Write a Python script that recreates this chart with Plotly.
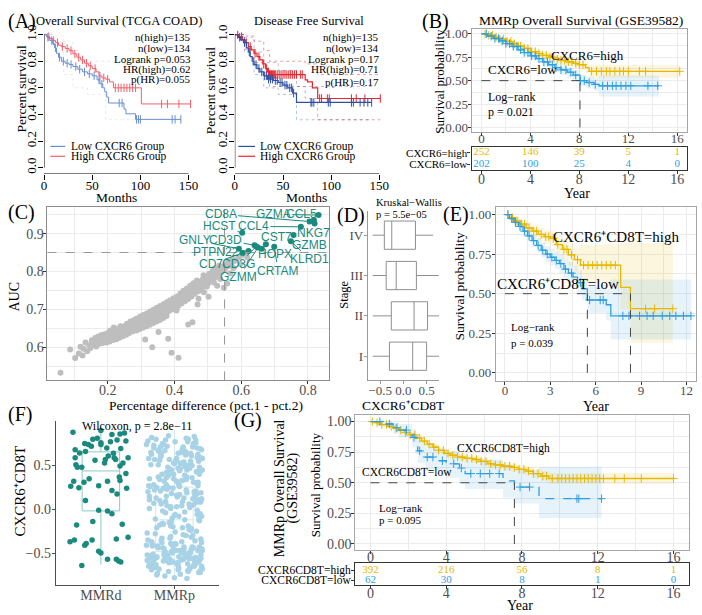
import plotly.graph_objects as go

W, H = 702, 615
SERIF = "Liberation Serif"
SANS = "Liberation Sans"
GOLD = "#E7B800"
BLUE = "#2E9FDF"
GOLD_F = "rgba(231,184,0,0.13)"
BLUE_F = "rgba(46,159,223,0.12)"
TEAL = "#1A8A7E"
TEAL_L = "#8CCAC2"
LIGHTBLUE = "#A8D3E6"
GRID = "#EBEBEB"
BORDER = "#A6A6A6"
TICKC = "#4D4D4D"

# ======================= DATA =======================
# (A) TCGA COAD overall survival (months)
a1_high_t = [0, 3, 6, 9, 12, 15, 18, 22, 26, 30, 34, 38, 42, 46, 50, 54, 57, 60, 64, 68, 72, 101]
a1_high_s = [1, 0.985, 0.97, 0.955, 0.94, 0.92, 0.91, 0.895, 0.88, 0.855, 0.83, 0.81, 0.785, 0.765, 0.745, 0.72, 0.69, 0.675, 0.665, 0.645, 0.60, 0.479]
a1_high_end = 152
a1_high_cens = [5, 10, 14, 19, 24, 28, 32, 36, 40, 44, 48, 53, 58, 62, 66, 74, 77, 80, 83, 86, 89, 92, 95, 122, 128, 140, 152]
a1_low_t = [0, 3, 6, 9, 11, 13, 15, 18, 22, 26, 30, 35, 40, 45, 50, 55, 58, 61, 63, 65, 67, 83, 85, 95]
a1_low_s = [1, 0.98, 0.955, 0.93, 0.9, 0.86, 0.83, 0.8, 0.785, 0.775, 0.76, 0.74, 0.72, 0.705, 0.69, 0.66, 0.63, 0.6, 0.57, 0.53, 0.486, 0.44, 0.405, 0.363]
a1_low_end = 142
a1_low_cens = [4, 8, 12, 16, 20, 24, 28, 33, 37, 42, 47, 52, 57, 60, 78, 81, 96, 98, 100, 133, 136, 142]
a1_stats = ["n(high)=135", "n(low)=134", "Logrank p=0.053", "HR(high)=0.62", "p(HR)=0.055"]

# (A) disease free survival
a2_high_t = [0, 4, 8, 11, 14, 17, 20, 23, 26, 29, 32, 34, 36, 73, 75.5, 80.5, 86]
a2_high_s = [1, 0.985, 0.96, 0.94, 0.91, 0.885, 0.86, 0.835, 0.81, 0.78, 0.745, 0.72, 0.70, 0.66, 0.645, 0.60, 0.52]
a2_high_end = 151
a2_high_cens = [3, 7, 12, 16, 21, 25, 30, 33, 35, 36, 37, 38, 39, 40, 41, 42, 44, 46, 48, 50, 52, 54, 56, 58, 60, 62, 64,
                68, 70, 88, 90, 96, 98, 121, 126, 135, 151]
a2_low_t = [0, 3, 6, 9, 12, 14, 16, 18, 20, 23, 26, 30, 34, 40, 45, 50, 55, 60, 64]
a2_low_s = [1, 0.98, 0.96, 0.94, 0.9, 0.87, 0.835, 0.8, 0.775, 0.745, 0.72, 0.69, 0.665, 0.655, 0.64, 0.62, 0.6, 0.56, 0.49]
a2_low_end = 142
a2_low_cens = [5, 10, 15, 19, 22, 25, 28, 31, 33, 35, 37, 39, 42, 44, 47, 49, 52, 54, 57, 59, 61, 79, 80, 82, 97, 99,
               121, 123, 130, 134, 138, 142]
a2_ci_high_t = [0, 10, 20, 30, 36, 73, 86]
a2_ci_high_hi = [1, 0.99, 0.95, 0.88, 0.80, 0.78, 0.70]
a2_ci_high_lo = [1, 0.89, 0.79, 0.70, 0.61, 0.52, 0.36]
a2_ci_low_t = [0, 10, 20, 30, 45, 64]
a2_ci_low_hi = [1, 0.98, 0.87, 0.79, 0.73, 0.61]
a2_ci_low_lo = [1, 0.87, 0.70, 0.60, 0.55, 0.36]
a2_stats = ["n(high)=135", "n(low)=134", "Logrank p=0.17", "HR(high)=0.71", "p(HR)=0.17"]

# (B) MMRp overall survival (GSE39582), years
b_high_t = [0, 0.5, 1.0, 1.5, 2.0, 2.5, 3.0, 3.5, 4.0, 4.5, 5.0, 5.5, 6.0, 6.5, 7.0, 7.5, 8.0, 8.5, 8.8]
b_high_s = [1.0, 0.985, 0.965, 0.945, 0.92, 0.895, 0.87, 0.845, 0.81, 0.79, 0.77, 0.75, 0.73, 0.715, 0.70, 0.685, 0.67, 0.64, 0.60]
b_high_lo = [1.0, 0.975, 0.95, 0.93, 0.90, 0.87, 0.845, 0.815, 0.78, 0.755, 0.735, 0.71, 0.69, 0.67, 0.655, 0.635, 0.615, 0.58, 0.53]
b_high_hi = [1.0, 0.995, 0.98, 0.965, 0.945, 0.92, 0.90, 0.875, 0.845, 0.825, 0.81, 0.79, 0.77, 0.76, 0.745, 0.735, 0.72, 0.70, 0.67]
b_high_end = 16.2
b_high_cens = [0.3, 0.6, 0.9, 1.2, 1.5, 1.8, 2.1, 2.4, 2.7, 3.0, 3.2, 3.5, 3.8, 4.1, 4.4, 4.7, 5.0, 5.3, 5.6, 5.9,
               6.2, 6.5, 6.8, 7.1, 7.4, 7.7, 8.0, 8.3, 9.0, 9.4, 9.8, 10.2, 10.5, 10.9, 11.3, 11.6, 12.0, 12.9, 13.4, 16.2]
b_low_t = [0, 0.5, 1, 1.5, 2, 2.5, 3, 3.5, 4, 4.5, 5, 5.5, 6, 6.5, 7, 7.5, 8.05, 8.6, 9.2, 9.6]
b_low_s = [1, 0.975, 0.95, 0.925, 0.895, 0.865, 0.83, 0.80, 0.765, 0.735, 0.70, 0.67, 0.64, 0.615, 0.59, 0.56, 0.50, 0.48, 0.46, 0.445]
b_low_lo = [1, 0.96, 0.93, 0.90, 0.865, 0.83, 0.79, 0.76, 0.72, 0.69, 0.65, 0.62, 0.59, 0.56, 0.535, 0.505, 0.44, 0.415, 0.39, 0.33]
b_low_hi = [1, 0.99, 0.97, 0.95, 0.925, 0.90, 0.87, 0.84, 0.81, 0.78, 0.75, 0.72, 0.69, 0.67, 0.645, 0.615, 0.56, 0.545, 0.53, 0.555]
b_low_end = 14.5
b_low_cens = [0.4, 0.8, 1.1, 1.4, 1.7, 2.0, 2.3, 2.6, 2.9, 3.2, 3.5, 3.8, 4.1, 4.4, 4.7, 5.1, 5.4, 5.8, 6.1, 6.5,
              6.9, 7.3, 7.7, 8.1, 8.4, 8.8, 9.3, 9.9, 10.3, 10.7, 11.0, 11.4, 11.8, 12.2, 13.6, 14.4]
b_risk_times = [0, 4, 8, 12, 16]
b_risk_high = [252, 146, 39, 5, 1]
b_risk_low = [202, 100, 25, 4, 0]

# (C) marker genes: percentage difference vs AUC
pct_diff = [0.058, 0.087, 0.102, 0.113, 0.118, 0.124, 0.127, 0.133, 0.138, 0.144,
            0.148, 0.152, 0.155, 0.157, 0.162, 0.165, 0.168, 0.171, 0.174, 0.176,
            0.178, 0.181, 0.184, 0.186, 0.188, 0.191, 0.194, 0.196, 0.198, 0.201,
            0.203, 0.205, 0.207, 0.209, 0.212, 0.214, 0.216, 0.218, 0.219, 0.222,
            0.224, 0.226, 0.228, 0.229, 0.231, 0.233, 0.235, 0.237, 0.238, 0.241,
            0.243, 0.245, 0.246, 0.248, 0.249, 0.251, 0.253, 0.255, 0.256, 0.258,
            0.259, 0.262, 0.263, 0.265, 0.267, 0.268, 0.271, 0.272, 0.274, 0.276,
            0.277, 0.279, 0.281, 0.283, 0.284, 0.286, 0.287, 0.289, 0.291, 0.292,
            0.294, 0.295, 0.297, 0.299, 0.301, 0.302, 0.304, 0.305, 0.307, 0.309,
            0.311, 0.312, 0.314, 0.316, 0.317, 0.312, 0.321, 0.323, 0.324, 0.326,
            0.327, 0.329, 0.331, 0.332, 0.334, 0.336, 0.337, 0.333, 0.341, 0.342,
            0.344, 0.346, 0.347, 0.349, 0.351, 0.352, 0.354, 0.356, 0.357, 0.352,
            0.361, 0.362, 0.364, 0.366, 0.368, 0.371, 0.372, 0.374, 0.376, 0.378,
            0.381, 0.383, 0.384, 0.381, 0.387, 0.391, 0.392, 0.394, 0.391, 0.397,
            0.401, 0.403, 0.404, 0.406, 0.408, 0.411, 0.413, 0.414, 0.412, 0.418,
            0.421, 0.423, 0.424, 0.427, 0.431, 0.433, 0.435, 0.437, 0.441, 0.443,
            0.444, 0.447, 0.441, 0.451, 0.452, 0.454, 0.457, 0.454, 0.461, 0.463,
            0.464, 0.467, 0.471, 0.472, 0.474, 0.469, 0.481, 0.483, 0.484, 0.487,
            0.491, 0.493, 0.494, 0.488, 0.501, 0.503, 0.504, 0.497, 0.511, 0.513,
            0.514, 0.521, 0.523, 0.524, 0.518, 0.531, 0.533, 0.534, 0.541, 0.543,
            0.537, 0.551, 0.553, 0.561, 0.563, 0.558, 0.571, 0.574, 0.581, 0.577,
            0.591, 0.601, 0.597, 0.611, 0.618, 0.502, 0.472, 0.528, 0.548, 0.567]
auc = [0.532, 0.594, 0.571, 0.583, 0.601, 0.578, 0.596, 0.612, 0.589, 0.605,
       0.598, 0.618, 0.607, 0.611, 0.624, 0.602, 0.615, 0.628, 0.609, 0.621,
       0.617, 0.632, 0.611, 0.625, 0.619, 0.634, 0.627, 0.612, 0.622, 0.638,
       0.629, 0.615, 0.644, 0.626, 0.633, 0.641, 0.619, 0.652, 0.628, 0.636,
       0.645, 0.621, 0.639, 0.631, 0.642, 0.649, 0.625, 0.637, 0.655, 0.635,
       0.646, 0.629, 0.652, 0.641, 0.638, 0.649, 0.657, 0.633, 0.644, 0.662,
       0.642, 0.651, 0.637, 0.659, 0.647, 0.668, 0.646, 0.655, 0.641, 0.663,
       0.651, 0.672, 0.649, 0.658, 0.667, 0.644, 0.676, 0.655, 0.653, 0.664,
       0.671, 0.648, 0.681, 0.659, 0.657, 0.668, 0.675, 0.651, 0.685, 0.662,
       0.661, 0.672, 0.679, 0.655, 0.689, 0.620, 0.665, 0.676, 0.684, 0.659,
       0.694, 0.671, 0.669, 0.681, 0.689, 0.664, 0.699, 0.600, 0.674, 0.686,
       0.694, 0.668, 0.704, 0.679, 0.679, 0.691, 0.699, 0.672, 0.709, 0.640,
       0.684, 0.696, 0.704, 0.677, 0.714, 0.689, 0.701, 0.709, 0.682, 0.719,
       0.694, 0.706, 0.714, 0.622, 0.724, 0.699, 0.711, 0.719, 0.585, 0.729,
       0.704, 0.716, 0.724, 0.697, 0.734, 0.709, 0.722, 0.731, 0.572, 0.742,
       0.715, 0.728, 0.737, 0.749, 0.721, 0.734, 0.744, 0.755, 0.727, 0.741,
       0.751, 0.762, 0.660, 0.734, 0.748, 0.758, 0.769, 0.666, 0.741, 0.755,
       0.765, 0.776, 0.748, 0.762, 0.772, 0.713, 0.755, 0.769, 0.779, 0.790,
       0.762, 0.776, 0.786, 0.745, 0.769, 0.783, 0.794, 0.760, 0.776, 0.790,
       0.801, 0.784, 0.797, 0.808, 0.771, 0.791, 0.805, 0.815, 0.799, 0.812,
       0.780, 0.806, 0.819, 0.814, 0.826, 0.768, 0.821, 0.833, 0.828, 0.809,
       0.836, 0.842, 0.820, 0.848, 0.838, 0.733, 0.728, 0.762, 0.757, 0.795]
gene_names = ["CD8A", "GZMA", "CCL5", "CCL4", "NKG7", "HCST", "CST7", "GNLY", "CD3D", "GZMB",
              "PTPN22", "HOPX", "KLRD1", "CD7", "CD3G", "CRTAM", "GZMM"]
gene_pct = [0.805, 0.832, 0.820, 0.779, 0.818, 0.603, 0.674, 0.593, 0.640, 0.757,
            0.622, 0.662, 0.749, 0.604, 0.645, 0.699, 0.650]
gene_auc = [0.932, 0.949, 0.927, 0.918, 0.936, 0.902, 0.872, 0.860, 0.869, 0.896,
            0.854, 0.860, 0.880, 0.849, 0.866, 0.865, 0.863]
gene_label_pct = [0.538, 0.696, 0.781, 0.637, 0.818, 0.535, 0.706, 0.461, 0.553, 0.805,
                  0.523, 0.701, 0.805, 0.509, 0.593, 0.711, 0.593]
gene_label_auc = [0.951, 0.951, 0.951, 0.919, 0.901, 0.919, 0.892, 0.883, 0.884, 0.869,
                  0.851, 0.845, 0.832, 0.819, 0.819, 0.802, 0.785]
pct_cutoff = 0.55
auc_cutoff = 0.85

# (D) CXCR6+CD8T by stage (boxplot statistics)
stages = ["I", "II", "III", "IV"]
stage_q1 = [-0.30, -0.26, -0.37, -0.41]
stage_med = [0.20, 0.23, -0.155, -0.25]
stage_q3 = [0.50, 0.52, 0.28, 0.26]
stage_lo = [-0.66, -0.66, -0.66, -0.66]
stage_hi = [0.78, 0.78, 0.76, 0.64]

# (E) CXCR6+CD8T survival, years
e_high_t = [0, 0.3, 0.6, 1.0, 1.4, 1.8, 2.2, 2.6, 3.0, 3.4, 3.8, 4.2, 4.6, 5.0, 7.65, 8.3]
e_high_s = [1, 0.98, 0.96, 0.94, 0.915, 0.895, 0.875, 0.86, 0.85, 0.81, 0.78, 0.745, 0.715, 0.68, 0.54, 0.405]
e_high_lo = [1, 0.965, 0.94, 0.91, 0.885, 0.86, 0.835, 0.815, 0.80, 0.755, 0.72, 0.675, 0.64, 0.57, 0.40, 0.19]
e_high_hi = [1, 0.995, 0.985, 0.97, 0.95, 0.93, 0.915, 0.905, 0.895, 0.865, 0.84, 0.81, 0.79, 0.81, 0.82, 0.82]
e_high_end = 11.1
e_high_cens = [0.2, 0.5, 0.8, 1.1, 1.3, 1.6, 1.9, 2.1, 2.4, 2.7, 2.9, 3.2, 3.5, 3.9, 4.1, 4.4, 4.8, 5.2, 5.5, 5.8,
               6.1, 6.4, 6.7, 7.0, 7.3, 9.3, 9.9, 11.1]
e_low_t = [0, 0.3, 0.6, 0.9, 1.2, 1.5, 1.8, 2.1, 2.4, 2.7, 3.0, 3.3, 3.6, 3.9, 4.2, 4.5, 4.8, 5.1, 5.45, 6.7, 7.0]
e_low_s = [1, 0.975, 0.95, 0.925, 0.895, 0.865, 0.835, 0.805, 0.775, 0.75, 0.73, 0.71, 0.69, 0.655, 0.63, 0.605, 0.57, 0.53, 0.46, 0.43, 0.36]
e_low_lo = [1, 0.955, 0.925, 0.895, 0.86, 0.83, 0.795, 0.76, 0.73, 0.70, 0.68, 0.655, 0.63, 0.595, 0.57, 0.54, 0.50, 0.46, 0.38, 0.33, 0.21]
e_low_hi = [1, 0.995, 0.98, 0.96, 0.935, 0.905, 0.875, 0.85, 0.825, 0.80, 0.785, 0.765, 0.75, 0.72, 0.70, 0.675, 0.645, 0.60, 0.545, 0.53, 0.59]
e_low_end = 12.3
e_low_cens = [0.2, 0.45, 0.7, 1.0, 1.3, 1.6, 1.9, 2.2, 2.5, 2.8, 3.1, 3.4, 3.7, 4.0, 4.4, 5.0, 5.6, 6.3, 6.5, 7.8,
              8.2, 8.9, 9.4, 9.8, 10.4, 10.9, 11.3, 11.8, 12.3]

# (F) CXCR6+CD8T score by MMR status (jittered positions)
mmrd_x = [0.62, 1.00, 1.26, 1.15, 1.32, 0.89, 0.78, 1.00, 1.22, 1.34,
          0.83, 0.95, 0.65, 0.65, 0.71, 0.79, 1.08, 1.27, 1.37, 1.06,
          1.20, 1.26, 0.68, 0.74, 1.05, 1.30, 0.63, 0.77, 0.70, 0.59,
          0.97, 1.15, 1.25, 1.09, 1.35, 1.34, 0.79, 1.22, 0.97, 1.09,
          1.15, 0.89, 0.67, 1.29, 1.37, 0.58, 0.64, 0.88, 0.78, 0.80,
          1.21, 0.97, 1.00, 1.09, 1.21, 1.24, 1.27, 0.74, 0.92, 1.00,
          1.13, 0.87, 0.66, 1.10, 1.18, 1.17, 0.84, 1.26]
mmrd_y = [0.88, 0.90, 0.86, 0.855, 0.87, 0.80, 0.75, 0.76, 0.79, 0.78,
          0.74, 0.81, 0.68, 0.59, 0.644, 0.66, 0.70, 0.694, 0.59, 0.57,
          0.568, 0.495, 0.48, 0.48, 0.53, 0.53, 0.32, 0.31, 0.245, 0.264,
          0.27, 0.214, 0.37, 0.32, 0.24, 0.41, 0.10, 0.176, -0.01, -0.018,
          -0.05, -0.14, -0.18, -0.17, -0.32, -0.37, -0.35, -0.35, -0.41, -0.39,
          -0.34, -0.48, -0.50, -0.57, -0.57, -0.59, -0.60, -0.64, 0.56, 0.74,
          0.77, 0.72, 0.51, 0.61, 0.59, 0.64, 0.35, 0.33]
mmrp_x = [1.69, 2.14, 1.93, 2.33, 1.78, 2.04, 2.26, 1.85, 2.37, 1.72, 2.19, 1.99, 2.23, 1.66, 2.09, 1.82, 2.35, 1.89, 2.02, 2.29,
          1.75, 2.16, 1.95, 2.31, 1.63, 2.07, 2.21, 1.87, 2.38, 1.80, 2.11, 1.97, 2.27, 1.68, 2.13, 1.91, 2.34, 1.76, 2.05, 2.18,
          1.64, 2.22, 1.94, 2.30, 1.83, 2.01, 2.25, 1.71, 2.36, 1.88, 2.15, 1.96, 2.32, 1.77, 2.08, 1.84, 2.37, 1.70, 2.03, 2.20,
          1.73, 2.12, 1.92, 2.28, 1.65, 2.06, 2.24, 1.86, 2.33, 1.79, 2.17, 1.98, 2.26, 1.67, 2.10, 1.81, 2.36, 1.90, 2.00, 2.30,
          1.74, 2.15, 1.94, 2.32, 1.62, 2.08, 2.22, 1.88, 2.37, 1.81, 2.12, 1.96, 2.28, 1.69, 2.14, 1.92, 2.35, 1.75, 2.06, 2.19,
          1.63, 2.21, 1.93, 2.29, 1.84, 2.02, 2.26, 1.72, 2.35, 1.87, 2.16, 1.97, 2.31, 1.76, 2.07, 1.83, 2.38, 1.71, 2.04, 2.21,
          1.72, 2.11, 1.91, 2.27, 1.66, 2.05, 2.23, 1.85, 2.34, 1.78, 2.18, 1.99, 2.25, 1.64, 2.09, 1.80, 2.33, 1.89, 2.01, 2.31,
          1.76, 2.13, 1.95, 2.30, 1.67, 2.10, 2.20, 1.86, 2.36, 1.82, 2.14, 1.98, 2.27, 1.70, 2.12, 1.93, 2.34, 1.74, 2.03, 2.17,
          1.65, 2.23, 1.92, 2.32, 1.82, 2.00, 2.24, 1.73, 2.37, 1.89, 2.17, 1.95, 2.29, 1.78, 2.06, 1.85, 2.36, 1.69, 2.02, 2.22,
          1.86, 2.27, 1.71, 2.05, 2.34, 1.79, 2.12, 1.95, 2.38, 1.66, 2.21, 1.90, 2.30, 1.75, 2.08, 1.83, 2.25, 1.68, 2.16, 1.99,
          2.32, 1.73, 2.03, 2.19, 1.88, 2.36, 1.64, 2.11, 1.94, 2.28, 1.81, 2.07, 2.23, 1.70, 2.35, 1.92, 2.14, 1.77, 2.01, 2.31,
          1.85, 2.18, 1.67, 2.26, 1.97, 2.09, 1.74, 2.33, 1.89, 2.13, 1.62, 2.24, 1.93, 2.06, 2.37, 1.80, 2.15, 1.98, 2.29, 1.72,
          2.02, 2.20, 1.87, 2.34, 1.69, 2.10, 1.96, 2.27, 1.76, 2.04, 2.36, 1.84, 2.17, 1.65, 2.22, 1.91, 2.31, 1.78, 2.08, 2.00,
          1.82, 2.25, 1.71, 2.13, 2.38, 1.94, 2.05, 1.67, 2.29, 1.88, 2.19, 1.74, 2.33, 1.97, 2.11, 1.63, 2.23, 1.86, 2.03, 2.35,
          1.79, 2.16, 1.92, 2.30, 1.70, 2.07, 2.26, 1.84, 2.37, 1.95, 2.12, 1.68, 2.21, 1.89, 2.01, 2.32, 1.76, 2.14, 1.99, 2.28,
          1.73, 2.09, 1.83, 2.36, 1.66, 2.18, 1.93, 2.24, 1.80, 2.04, 2.31, 1.87, 2.15, 1.64, 2.27, 1.96, 2.10, 1.75, 2.34, 1.90]
mmrp_y = [0.82, -0.55, 0.41, -0.12, 0.67, -0.63, 0.05, 0.74, -0.38, 0.28, -0.71, 0.53, -0.22, 0.15, -0.58, 0.61, -0.05, 0.36, -0.47, 0.79,
          -0.66, 0.22, -0.31, 0.70, -0.52, 0.44, 0.02, -0.76, 0.58, -0.18, 0.33, -0.60, 0.12, 0.65, -0.43, 0.48, -0.09, 0.25, -0.69, 0.77,
          -0.35, 0.55, -0.57, 0.08, 0.40, -0.26, 0.72, -0.64, 0.19, -0.49, 0.62, -0.14, 0.31, -0.73, 0.46, -0.02, 0.68, -0.40, 0.16, -0.56,
          0.57, -0.29, 0.84, -0.62, 0.27, -0.08, 0.50, -0.45, 0.11, -0.68, 0.37, -0.20, 0.75, -0.53, 0.04, 0.60, -0.34, 0.23, -0.78, 0.43,
          -0.11, 0.66, -0.59, 0.30, -0.41, 0.52, -0.24, 0.09, -0.65, 0.71, -0.50, 0.18, -0.36, 0.63, -0.03, 0.39, -0.70, 0.13, -0.54, 0.80,
          -0.27, 0.47, -0.61, 0.21, -0.16, 0.56, -0.44, 0.07, 0.69, -0.58, 0.34, -0.10, 0.59, -0.75, 0.26, -0.33, 0.45, -0.51, 0.14, -0.67,
          0.73, -0.21, 0.38, -0.57, 0.01, 0.64, -0.46, 0.24, -0.13, 0.51, -0.62, 0.35, -0.30, 0.78, -0.48, 0.10, -0.72, 0.42, -0.06, 0.29,
          -0.55, 0.54, -0.39, 0.17, -0.64, 0.66, -0.23, 0.32, -0.52, 0.06, 0.49, -0.60, 0.20, -0.42, 0.71, -0.15, 0.40, -0.56, 0.03, -0.79,
          0.58, -0.32, 0.25, -0.47, 0.63, -0.07, 0.36, -0.66, 0.12, -0.53, 0.45, -0.19, 0.76, -0.44, 0.28, -0.59, 0.09, -0.37, 0.55, -0.50,
          -0.52, 0.18, -0.61, 0.47, -0.43, 0.66, -0.57, 0.03, -0.68, 0.35, -0.49, 0.72, -0.25, -0.63, 0.53, -0.38, 0.12, -0.55, 0.81, -0.46,
          0.27, -0.66, 0.58, -0.51, -0.04, 0.44, -0.59, 0.69, -0.33, -0.62, 0.21, -0.47, 0.61, -0.54, 0.08, -0.71, 0.39, -0.42, 0.77, -0.58,
          -0.17, 0.50, -0.64, 0.31, -0.50, 0.65, -0.28, -0.60, 0.15, -0.45, 0.74, -0.56, 0.42, -0.67, -0.08, 0.56, -0.53, 0.24, -0.62, 0.70,
          -0.40, 0.06, -0.57, 0.48, -0.69, 0.33, -0.48, 0.83, -0.21, -0.61, 0.59, -0.44, 0.19, -0.65, 0.64, -0.52, -0.01, 0.37, -0.74, 0.52,
          -0.36, 0.71, -0.59, 0.13, -0.47, 0.46, -0.63, 0.26, -0.55, 0.79, -0.19, -0.66, 0.55, -0.41, 0.09, -0.58, 0.62, -0.50, 0.32, -0.72,
          0.68, -0.30, -0.60, 0.43, -0.53, 0.17, -0.64, 0.75, -0.45, 0.01, -0.57, 0.51, -0.68, 0.28, -0.39, 0.63, -0.54, -0.12, 0.40, -0.61,
          0.22, -0.49, 0.73, -0.56, 0.11, -0.70, 0.57, -0.43, 0.34, -0.62, -0.06, 0.67, -0.51, 0.20, -0.65, 0.45, -0.37, 0.80, -0.58, 0.04]
mmr_groups = ["MMRd", "MMRp"]
mmr_q1 = [-0.018, -0.48]
mmr_med = [0.438, -0.12]
mmr_q3 = [0.656, 0.255]
mmr_lo = [-0.63, -0.80]
mmr_hi = [0.92, 0.90]

# (G) MMRp overall survival by CXCR6CD8T, years
g_high_t = [0, 0.3, 0.6, 0.9, 1.2, 1.5, 1.8, 2.1, 2.4, 2.7, 3.0, 3.3, 3.6, 3.9, 4.2, 4.6, 5.0, 5.4, 5.8, 6.2, 6.6, 7.0,
            7.4, 7.8, 8.2, 8.6, 9.0, 9.4]
g_high_s = [1, 0.99, 0.975, 0.96, 0.945, 0.93, 0.91, 0.89, 0.865, 0.84, 0.815, 0.79, 0.765, 0.74, 0.725, 0.71, 0.70,
            0.69, 0.675, 0.655, 0.645, 0.635, 0.625, 0.61, 0.595, 0.575, 0.555, 0.535]
g_high_lo = [1, 0.985, 0.965, 0.948, 0.932, 0.915, 0.893, 0.872, 0.846, 0.82, 0.794, 0.768, 0.742, 0.716, 0.70, 0.684,
             0.673, 0.662, 0.646, 0.625, 0.614, 0.603, 0.592, 0.576, 0.56, 0.538, 0.516, 0.49]
g_high_hi = [1, 0.995, 0.985, 0.972, 0.958, 0.945, 0.927, 0.908, 0.884, 0.86, 0.836, 0.812, 0.788, 0.764, 0.75, 0.736,
             0.727, 0.718, 0.704, 0.685, 0.676, 0.667, 0.658, 0.644, 0.63, 0.612, 0.594, 0.58]
g_high_end = 16.0
g_high_cens = [0.1, 0.35, 0.6, 0.85, 1.1, 1.35, 1.6, 1.85, 2.1, 2.35, 2.6, 2.85, 3.1, 3.35, 3.6, 3.85, 4.1, 4.35, 4.6,
               4.85, 5.1, 5.35, 5.6, 5.85, 6.1, 6.35, 6.6, 6.85, 7.1, 7.35, 7.6, 7.85, 8.1, 8.35, 8.6, 8.85, 9.1, 9.3,
               9.6, 9.9, 10.1, 10.3, 10.5, 10.7, 10.9, 11.1, 11.3, 11.5, 11.7, 11.9, 12.1, 12.3, 12.9, 13.4, 14.3, 16.0]
g_low_t = [0, 0.6, 1.2, 1.5, 2.2, 2.4, 2.5, 2.9, 3.6, 4.0, 4.7, 5.0, 7.0, 7.6, 8.9]
g_low_s = [1, 0.98, 0.95, 0.93, 0.87, 0.82, 0.76, 0.71, 0.68, 0.655, 0.62, 0.575, 0.515, 0.465, 0.37]
g_low_lo = [1, 0.95, 0.90, 0.87, 0.79, 0.73, 0.66, 0.60, 0.57, 0.54, 0.50, 0.45, 0.38, 0.33, 0.21]
g_low_hi = [1, 1.0, 0.99, 0.98, 0.94, 0.90, 0.85, 0.81, 0.78, 0.76, 0.73, 0.69, 0.65, 0.60, 0.63]
g_low_end = 12.2
g_low_cens = [0.5, 1.0, 1.4, 1.9, 2.3, 2.6, 3.0, 3.3, 3.8, 4.4, 4.8, 5.3, 5.8, 6.3, 6.8, 7.9, 8.4, 10.9, 11.0, 12.2]
g_risk_times = [0, 4, 8, 12, 16]
g_risk_high = [392, 216, 56, 8, 1]
g_risk_low = [62, 30, 8, 1, 0]


# ======================= HELPERS =======================
def dx(l, r):
    return [l / W, r / W]


def dy(t, b):
    return [1 - b / H, 1 - t / H]


def px(x):
    return x / W


def py(y):
    return 1 - y / H


def step_xy(t, s, end):
    return list(t) + [end], list(s) + [s[-1]]


def surv_at(t, s, x):
    v = s[0]
    for ti, si in zip(t, s):
        if ti <= x:
            v = si
        else:
            break
    return v


def median_time(t, s):
    for ti, si in zip(t, s):
        if si <= 0.5:
            return ti
    return None


fig = go.Figure()
layout = {}
shapes = []
annots = []


def ax_names(n):
    return ("x" if n == 1 else f"x{n}"), ("y" if n == 1 else f"y{n}")


def set_axes(n, xd, yd):
    xa, ya = ax_names(n)
    xd["anchor"] = ya
    yd["anchor"] = xa
    xd.setdefault("zeroline", False)
    yd.setdefault("zeroline", False)
    xd.setdefault("fixedrange", True)
    yd.setdefault("fixedrange", True)
    layout["xaxis" if n == 1 else f"xaxis{n}"] = xd
    layout["yaxis" if n == 1 else f"yaxis{n}"] = yd


def band(n, t, lo, hi, end, fillc):
    xa, ya = ax_names(n)
    bx, blo = step_xy(t, lo, end)
    _, bhi = step_xy(t, hi, end)
    fig.add_trace(go.Scatter(x=bx, y=blo, mode="lines", line=dict(width=0, shape="hv"),
                             xaxis=xa, yaxis=ya, showlegend=False, hoverinfo="skip"))
    fig.add_trace(go.Scatter(x=bx, y=bhi, mode="lines", line=dict(width=0, shape="hv"),
                             fill="tonexty", fillcolor=fillc,
                             xaxis=xa, yaxis=ya, showlegend=False, hoverinfo="skip"))


def km(n, t, s, end, cens, color, dash="solid", width=1.3, symbol="cross-thin", msize=6, opacity=1.0):
    xa, ya = ax_names(n)
    x, y = step_xy(t, s, end)
    fig.add_trace(go.Scatter(x=x, y=y, mode="lines", opacity=opacity,
                             line=dict(color=color, width=width, shape="hv", dash=dash),
                             xaxis=xa, yaxis=ya, showlegend=False, hoverinfo="skip"))
    cy = [surv_at(t, s, c) for c in cens]
    fig.add_trace(go.Scatter(x=cens, y=cy, mode="markers", opacity=opacity,
                             marker=dict(symbol=symbol, size=msize, color=color,
                                         line=dict(color=color, width=1)),
                             xaxis=xa, yaxis=ya, showlegend=False, hoverinfo="skip"))


def ci_line(n, t, s, end, color, opacity):
    xa, ya = ax_names(n)
    x, y = step_xy(t, s, end)
    fig.add_trace(go.Scatter(x=x, y=y, mode="lines", opacity=opacity,
                             line=dict(color=color, width=1, shape="hv", dash="dot"),
                             xaxis=xa, yaxis=ya, showlegend=False, hoverinfo="skip"))


def text(x, y, s, size, color="black", family=SERIF, xanchor="center", yanchor="middle",
         angle=0, xref="paper", yref="paper"):
    annots.append(dict(x=x, y=y, xref=xref, yref=yref, text=s, showarrow=False,
                       xanchor=xanchor, yanchor=yanchor, textangle=angle,
                       font=dict(family=family, size=size, color=color)))


def ptext(xp, yp, s, size, **kw):
    text(px(xp), py(yp), s, size, **kw)


def bw_axis(dom, rng, dtick, minor_dtick, fmt, size=13, standoff=0):
    d = dict(domain=dom, range=rng, tickmode="linear", tick0=0, dtick=dtick,
             showgrid=True, gridcolor=GRID, gridwidth=1,
             minor=dict(tick0=0, dtick=minor_dtick, showgrid=True, gridcolor=GRID, gridwidth=0.6, ticks=""),
             showline=True, mirror=True, linecolor=BORDER, linewidth=1,
             ticks="outside", ticklen=3, tickcolor="#333333", tickwidth=1,
             ticklabelstandoff=standoff,
             tickformat=fmt, tickfont=dict(family=SERIF, size=size, color=TICKC))
    return d


def table_axes(n, xdom, ydom, labels, yrange, size_lab=11, xstand=-6):
    xd = dict(domain=xdom, range=[-0.8, 16.8], tickmode="array", tickvals=[0, 4, 8, 12, 16],
              showline=True, mirror=True, linecolor="#333333", linewidth=1.2, showgrid=False,
              ticks="outside", ticklen=3, tickcolor="#333333", ticklabelstandoff=xstand,
              tickfont=dict(family=SERIF, size=14, color=TICKC))
    yd = dict(domain=ydom, range=yrange, tickmode="array", tickvals=[2, 1], ticktext=labels,
              showline=True, mirror=True, linecolor="#333333", linewidth=1.2, showgrid=False,
              ticks="outside", ticklen=3, tickcolor="#333333", ticklabelstandoff=-2,
              tickfont=dict(family=SERIF, size=size_lab, color="black"))
    set_axes(n, xd, yd)


def risk_numbers(n, times, high, low):
    xa, ya = ax_names(n)
    fig.add_trace(go.Scatter(x=times, y=[2] * len(times), mode="text", text=[str(v) for v in high],
                             textfont=dict(family=SERIF, size=11, color=GOLD),
                             xaxis=xa, yaxis=ya, showlegend=False, hoverinfo="skip"))
    fig.add_trace(go.Scatter(x=times, y=[1] * len(times), mode="text", text=[str(v) for v in low],
                             textfont=dict(family=SERIF, size=11, color=BLUE),
                             xaxis=xa, yaxis=ya, showlegend=False, hoverinfo="skip"))


def median_lines(n, meds):
    xa, ya = ax_names(n)
    meds = [m for m in meds if m is not None]
    if not meds:
        return
    st = dict(color="#444444", width=1, dash="dash")
    shapes.append(dict(type="line", xref=xa, yref=ya, x0=0, x1=max(meds), y0=0.5, y1=0.5, line=st))
    for m in meds:
        shapes.append(dict(type="line", xref=xa, yref=ya, x0=m, x1=m, y0=0, y1=0.5, line=st))


# ======================= PANEL A =======================
A_RED1, A_BLUE1 = "#F0606A", "#6A8ED2"
A_RED2, A_BLUE2 = "#E8262E", "#2D50A5"
A_YLO = -0.044
for n, xl, xr in [(1, 41.5, 192.0), (2, 234.5, 385.0)]:
    xd = dict(domain=dx(xl, xr), range=[0, 154.4], tickmode="array", tickvals=[0, 50, 100, 150],
              showgrid=False, showline=False, ticks="outside", ticklen=5, tickcolor="black",
              ticklabelstandoff=-5,
              tickfont=dict(family=SERIF, size=13, color="black"))
    yd = dict(domain=dy(25, 170), range=[A_YLO, 1.03], tickmode="array",
              tickvals=[0, 0.2, 0.4, 0.6, 0.8, 1.0], ticktext=["0.0", "0.2", "0.4", "0.6", "0.8", "1.0"],
              tickangle=-90, showgrid=False, showline=False, ticks="outside", ticklen=5, tickcolor="black",
              ticklabelstandoff=-3,
              tickfont=dict(family=SERIF, size=13, color="black"))
    set_axes(n, xd, yd)
    xa, ya = ax_names(n)
    shapes.append(dict(type="line", xref=xa, yref=ya, x0=0, x1=150, y0=A_YLO, y1=A_YLO,
                       line=dict(color="black", width=1)))
    shapes.append(dict(type="line", xref=xa, yref=ya, x0=0, x1=0, y0=0, y1=1,
                       line=dict(color="black", width=1)))

ci_line(1, a2_ci_high_t, a2_ci_high_hi, a1_high_end, A_RED1, 0.18)
ci_line(1, a2_ci_low_t, a2_ci_low_lo, a1_low_end, A_BLUE1, 0.18)
km(1, a1_high_t, a1_high_s, a1_high_end, a1_high_cens, A_RED1, width=1, symbol="line-ns", msize=6)
km(1, a1_low_t, a1_low_s, a1_low_end, a1_low_cens, A_BLUE1, width=1, symbol="line-ns", msize=6)

ci_line(2, a2_ci_high_t, a2_ci_high_hi, a2_high_end, A_RED2, 0.45)
ci_line(2, a2_ci_high_t, a2_ci_high_lo, a2_high_end, A_RED2, 0.45)
ci_line(2, a2_ci_low_t, a2_ci_low_hi, a2_low_end, A_BLUE2, 0.35)
ci_line(2, a2_ci_low_t, a2_ci_low_lo, a2_low_end, A_BLUE2, 0.35)
km(2, a2_high_t, a2_high_s, a2_high_end, a2_high_cens, A_RED2, width=1.2, symbol="line-ns", msize=6)
km(2, a2_low_t, a2_low_s, a2_low_end, a2_low_cens, A_BLUE2, width=1.2, symbol="line-ns", msize=6)

ptext(3, 16, "(A)", 20, xanchor="left")
ptext(117, 15, "Overall Survival (TCGA COAD)", 12.5)
ptext(310, 15, "Disease Free Survival", 12.5)
for i, (yy1, yy2) in enumerate(zip([32, 43, 53.5, 64, 75], [32, 43, 53.5, 64, 77.5])):
    ptext(192, yy1, a1_stats[i], 11, xanchor="right")
    ptext(382, yy2, a2_stats[i], 11, xanchor="right")
for x0, x1, tx, cl, cr in [(48, 63, 67, A_BLUE1, A_RED1), (238, 255, 258, A_BLUE2, A_RED2)]:
    shapes.append(dict(type="line", xref="paper", yref="paper", x0=px(x0), x1=px(x1), y0=py(142.5), y1=py(142.5),
                       line=dict(color=cl, width=1.2)))
    shapes.append(dict(type="line", xref="paper", yref="paper", x0=px(x0), x1=px(x1), y0=py(152.5), y1=py(152.5),
                       line=dict(color=cr, width=1.2)))
    ptext(tx, 142.5, "Low CXCR6 Group", 11.5, xanchor="left")
    ptext(tx, 152.5, "High CXCR6 Group", 11.5, xanchor="left")
ptext(19, 84, "Percent survival", 13.5, angle=-90)
ptext(210, 86, "Percent survival", 13.5, angle=-90)
ptext(115, 194, "Months", 13.5)
ptext(307, 194, "Months", 13.5)

# ======================= PANEL B =======================
set_axes(3, bw_axis(dx(474, 692), [-0.8, 16.8], 4, 2, "d", standoff=-9),
         bw_axis(dy(23.5, 128), [-0.05, 1.05], 0.25, 0.125, ".2f", standoff=-3))
band(3, b_high_t, b_high_lo, b_high_hi, b_high_end, GOLD_F)
band(3, b_low_t, b_low_lo, b_low_hi, b_low_end, BLUE_F)
km(3, b_high_t, b_high_s, b_high_end, b_high_cens, GOLD)
km(3, b_low_t, b_low_s, b_low_end, b_low_cens, BLUE)
median_lines(3, [median_time(b_high_t, b_high_s), median_time(b_low_t, b_low_s)])
table_axes(4, dx(474, 692), dy(143, 166), ["CXCR6=high", "CXCR6=low"], [0.55, 2.5], xstand=-6)
risk_numbers(4, b_risk_times, b_risk_high, b_risk_low)
ptext(422, 16, "(B)", 20, xanchor="left")
ptext(585, 15, "MMRp Overall Survival (GSE39582)", 13.5)
ptext(442, 76, "Survival probability", 13, angle=-90)
text(8.7, 0.764, "CXCR6=high", 13, xref="x3", yref="y3")
text(3.36, 0.62, "CXCR6=low", 13, xref="x3", yref="y3")
text(0.35, 0.326, "Log\u2212rank", 12, xref="x3", yref="y3", xanchor="left")
text(0.35, 0.164, "p = 0.021", 12, xref="x3", yref="y3", xanchor="left")
ptext(581, 190, "Year", 14)

# ======================= PANEL C =======================
cx = bw_axis(dx(45, 330), [0.019, 0.864], 0.2, 0.1, ".1f", size=14, standoff=-6)
cx.update(tick0=0, linecolor="#8C8C8C")
cy = bw_axis(dy(204.3, 380), [0.512, 0.9695], 0.1, 0.05, ".1f", size=14, standoff=-3)
cy.update(tick0=0, linecolor="#8C8C8C")
set_axes(5, cx, cy)
fig.add_trace(go.Scatter(x=pct_diff, y=auc, mode="markers",
                         marker=dict(color="#BEBEBE", size=6, line=dict(width=0)),
                         xaxis="x5", yaxis="y5", showlegend=False, hoverinfo="skip"))
shapes.append(dict(type="line", xref="x5", yref="y5 domain", x0=pct_cutoff, x1=pct_cutoff, y0=0, y1=1,
                   line=dict(color="#9A9A9A", width=1.1, dash="dash")))
shapes.append(dict(type="line", xref="x5 domain", yref="y5", x0=0, x1=1, y0=auc_cutoff, y1=auc_cutoff,
                   line=dict(color="#9A9A9A", width=1.1, dash="dash")))
fig.add_trace(go.Scatter(x=gene_pct, y=gene_auc, mode="markers",
                         marker=dict(color=TEAL, size=6, line=dict(width=0)),
                         xaxis="x5", yaxis="y5", showlegend=False, hoverinfo="skip"))
for g, gx, gy, lx, ly in zip(gene_names, gene_pct, gene_auc, gene_label_pct, gene_label_auc):
    annots.append(dict(x=gx, y=gy, xref="x5", yref="y5", ax=lx, ay=ly, axref="x5", ayref="y5",
                       text=g, showarrow=True, arrowhead=0, arrowwidth=1, arrowcolor=TEAL,
                       standoff=2, font=dict(family=SANS, size=12, color=TEAL)))
ptext(3, 210, "(C)", 20, xanchor="left")
ptext(12, 295, "AUC", 14, angle=-90)
ptext(205, 405, "Percentage difference (pct.1 - pct.2)", 13.5)

# ======================= PANEL D =======================
set_axes(6,
         dict(domain=dx(369, 441), range=[-0.766, 0.766], tickmode="array", tickvals=[-0.5, 0, 0.5],
              ticktext=["\u22120.5", "0.0", "0.5"], showgrid=False, showline=True, linecolor="#9A9A9A",
              ticks="outside", ticklen=3, tickcolor="#9A9A9A", ticklabelstandoff=-5,
              tickfont=dict(family=SERIF, size=13, color=TICKC)),
         dict(domain=dy(208, 380), type="category", categoryorder="array", categoryarray=stages,
              range=[-0.6, 3.6], showgrid=False, showline=True, linecolor="#9A9A9A",
              ticks="outside", ticklen=3, tickcolor="#9A9A9A", ticklabelstandoff=-2,
              tickfont=dict(family=SERIF, size=13, color=TICKC)))
fig.add_trace(go.Box(y=stages, q1=stage_q1, median=stage_med, q3=stage_q3,
                     lowerfence=stage_lo, upperfence=stage_hi, orientation="h",
                     width=0.7, whiskerwidth=0, fillcolor="rgba(255,255,255,0)",
                     line=dict(color="#8F8F8F", width=1), boxpoints=False,
                     xaxis="x6", yaxis="y6", showlegend=False, hoverinfo="skip"))
ptext(336, 213, "(D)", 20, xanchor="left")
ptext(375, 199, "Kruskal\u2212Wallis", 10.5, xanchor="left")
ptext(375, 212, "p = 5.5e\u221205", 10.5, xanchor="left")
ptext(345, 293, "Stage", 12.5, angle=-90)
ptext(405, 405, "CXCR6\u207aCD8T", 13.5)

# ======================= PANEL E =======================
set_axes(7, bw_axis(dx(498.5, 700.5), [-0.6, 12.6], 3, 1.5, "d", standoff=-5),
         bw_axis(dy(203.6, 380.3), [-0.05, 1.05], 0.25, 0.125, ".2f", standoff=-2))
band(7, e_high_t, e_high_lo, e_high_hi, e_high_end, GOLD_F)
band(7, e_low_t, e_low_lo, e_low_hi, e_low_end, BLUE_F)
km(7, e_high_t, e_high_s, e_high_end, e_high_cens, GOLD)
km(7, e_low_t, e_low_s, e_low_end, e_low_cens, BLUE)
median_lines(7, [median_time(e_high_t, e_high_s), median_time(e_low_t, e_low_s)])
ptext(443, 212, "(E)", 20, xanchor="left")
ptext(462, 284, "Survival probability", 13.5, angle=-90)
text(7.37, 0.861, "CXCR6\u207aCD8T=high", 15, xref="x7", yref="y7")
text(3.52, 0.56, "CXCR6\u207aCD8T=low", 15, xref="x7", yref="y7")
text(0.26, 0.29, "Log\u2212rank", 11, xref="x7", yref="y7", xanchor="left")
text(0.26, 0.19, "p = 0.039", 11, xref="x7", yref="y7", xanchor="left")
ptext(600, 406, "Year", 14)

# ======================= PANEL F =======================
set_axes(8,
         dict(domain=dx(53.3, 218), range=[0.385, 2.6], tickmode="array", tickvals=[1, 2], ticktext=mmr_groups,
              showgrid=False, showline=True, linecolor="#4D4D4D", linewidth=1,
              ticks="outside", ticklen=3, tickcolor="#4D4D4D", ticklabelstandoff=-6,
              tickfont=dict(family=SERIF, size=14, color=TICKC)),
         dict(domain=dy(421, 587.7), range=[-0.865, 1.01], tickmode="array", tickvals=[-0.5, 0, 0.5],
              ticktext=["\u22120.5", "0.0", "0.5"], showgrid=False, showline=True, linecolor="#4D4D4D",
              linewidth=1, ticks="outside", ticklen=3, tickcolor="#4D4D4D", ticklabelstandoff=-2,
              tickfont=dict(family=SERIF, size=14, color=TICKC)))
for i, colr in enumerate([TEAL_L, "#CFE6EF"]):
    fig.add_trace(go.Box(x=[i + 1], q1=[mmr_q1[i]], median=[mmr_med[i]], q3=[mmr_q3[i]],
                         lowerfence=[mmr_lo[i]], upperfence=[mmr_hi[i]], width=0.51, whiskerwidth=0,
                         fillcolor="rgba(255,255,255,0)", line=dict(color=colr, width=1), boxpoints=False,
                         xaxis="x8", yaxis="y8", showlegend=False, hoverinfo="skip"))
fig.add_trace(go.Scatter(x=mmrd_x, y=mmrd_y, mode="markers", marker=dict(color=TEAL, size=5.5, line=dict(width=0)),
                         xaxis="x8", yaxis="y8", showlegend=False, hoverinfo="skip"))
fig.add_trace(go.Scatter(x=mmrp_x, y=mmrp_y, mode="markers", marker=dict(color=LIGHTBLUE, size=5.5, line=dict(width=0)),
                         xaxis="x8", yaxis="y8", showlegend=False, hoverinfo="skip"))
ptext(3, 415, "(F)", 20, xanchor="left")
ptext(17, 492, "CXCR6\u207aCD8T", 15, angle=-90)
ptext(136, 426, "Wilcoxon, p = 2.8e\u221211", 12)

# ======================= PANEL G =======================
set_axes(9, bw_axis(dx(356.3, 693.6), [-0.8, 16.8], 4, 2, "d", size=14, standoff=-9),
         bw_axis(dy(415.5, 552.2), [-0.05, 1.05], 0.25, 0.125, ".2f", size=14, standoff=-3))
band(9, g_high_t, g_high_lo, g_high_hi, g_high_end, GOLD_F)
band(9, g_low_t, g_low_lo, g_low_hi, g_low_end, BLUE_F)
km(9, g_high_t, g_high_s, g_high_end, g_high_cens, GOLD)
km(9, g_low_t, g_low_s, g_low_end, g_low_cens, BLUE, dash="dash")
median_lines(9, [median_time(g_high_t, g_high_s), median_time(g_low_t, g_low_s)])
table_axes(10, dx(356.3, 693.6), dy(565, 588), ["CXCR6CD8T=high", "CXCR6CD8T=low"], [0.5, 2.75],
           size_lab=11.5, xstand=-8)
risk_numbers(10, g_risk_times, g_risk_high, g_risk_low)
ptext(232, 421, "(G)", 20, xanchor="left")
ptext(280.5, 489, "MMRp Overall Survival", 14, angle=-90)
ptext(293, 489, "(GSE39582)", 14, angle=-90)
ptext(316, 486, "Survival probability", 13, angle=-90)
text(7.05, 0.78, "CXCR6CD8T=high", 11.5, xref="x9", yref="y9")
text(1.95, 0.585, "CXCR6CD8T=low", 11.5, xref="x9", yref="y9")
text(0.34, 0.29, "Log\u2212rank", 11, xref="x9", yref="y9", xanchor="left")
text(0.34, 0.195, "p = 0.095", 11, xref="x9", yref="y9", xanchor="left")
ptext(523, 608.5, "Year", 14)

fig.update_layout(
    width=W, height=H, margin=dict(l=0, r=0, t=0, b=0),
    paper_bgcolor="white", plot_bgcolor="white", showlegend=False,
    boxmode="overlay", shapes=shapes, annotations=annots,
    font=dict(family=SERIF, size=12, color="black"),
    **layout)
fig.write_html("out.html")
